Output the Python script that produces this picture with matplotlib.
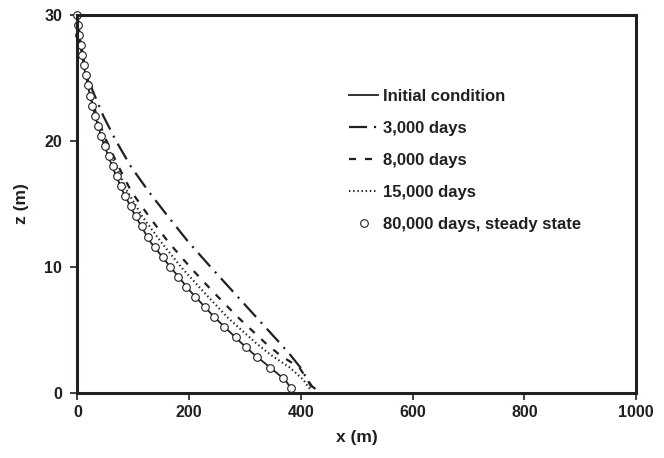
import matplotlib
matplotlib.use("Agg")
import matplotlib.pyplot as plt

plt.rcParams['font.family'] = ['Liberation Sans', 'DejaVu Sans']
plt.rcParams['font.weight'] = 'bold'
plt.rcParams['lines.scale_dashes'] = False

# steady state (circles)
ss_z = [30.0, 29.2, 28.4, 27.6, 26.8, 26.0, 25.2, 24.4, 23.6, 22.8, 22.0, 21.2, 20.4,
        19.6, 18.8, 18.0, 17.2, 16.4, 15.6, 14.8, 14.0, 13.2, 12.4, 11.6, 10.8, 10.0,
        9.2, 8.4, 7.6, 6.8, 6.0, 5.2, 4.4, 3.6, 2.8, 2.0, 1.2, 0.4]
ss_x = [0, 1.5, 3.5, 5.5, 8, 11, 14.5, 18.5, 22.5, 26.5, 31, 36, 42,
        49, 56, 63, 70, 77, 85, 95, 104, 115, 127, 139, 153, 166,
        180, 195, 211, 229, 245, 263, 283, 302, 322, 345, 367, 382]

# initial condition (solid line)
init_z = [30, 28, 26, 24, 22, 20, 18, 16, 14, 12, 10, 8, 6, 4, 3, 2, 1, 0.3]
init_x = [0, 4, 11, 20.5, 31, 45, 62, 81, 104, 130, 166, 203, 245, 292, 317, 345, 372, 383]

# transient curves
tr_z = [30, 28, 26, 24, 22, 20, 18, 16, 14, 12, 10, 8, 6, 4, 3, 2, 1, 0.5, 0.3]
x_3000 = [0, 5, 13, 27, 46, 69, 95, 127, 162, 198, 238, 279, 320, 361, 381, 399, 412, 420, 426]
x_8000 = [0, 4, 12, 23, 34, 52, 73, 96, 128, 162, 201, 243, 287, 335, 362, 397, 412, 418, 421]
x_15000 = [0, 4, 11.5, 21, 32, 49, 69, 89, 116, 149, 185, 226, 268, 318, 346, 380, 405, 412, 416]

labels = ['Initial condition', '3,000 days', '8,000 days', '15,000 days',
          '80,000 days, steady state']
ink = '#231f20'

fig = plt.figure(figsize=(6.64, 4.58), dpi=100)
ax = fig.add_axes([0.1167, 0.1426, 0.8413, 0.8247])

ax.plot(init_x, init_z, '-', color=ink, lw=1.3, label=labels[0])
ax.plot(x_3000, tr_z, color=ink, lw=1.6, dashes=(13, 5, 1.5, 5), label=labels[1])
ax.plot(x_8000, tr_z, color=ink, lw=1.6, dashes=(5, 6.5), label=labels[2])
ax.plot(x_15000, tr_z, color=ink, lw=1.5, dashes=(1, 2), label=labels[3])
ax.plot(ss_x, ss_z, 'o', ms=5.5, mfc='white', mec=ink, mew=0.8, clip_on=False,
        label=labels[4])

ax.set_xlim(0, 1000)
ax.set_ylim(0, 30)
ax.set_xticks([0, 200, 400, 600, 800, 1000])
ax.set_yticks([0, 10, 20, 30])
ax.tick_params(direction='out', length=5, width=1.2, labelsize=11.5, colors=ink)
ax.tick_params(axis='x', pad=4)
ax.tick_params(axis='y', pad=6)
for s in ax.spines.values():
    s.set_linewidth(2.2)
    s.set_color(ink)
ax.set_xlabel('x (m)', fontsize=12.5, fontweight='bold', color=ink, labelpad=7)
ax.set_ylabel('z (m)', fontsize=12.5, fontweight='bold', color=ink, labelpad=11)

leg = ax.legend(loc='upper left', bbox_to_anchor=(0.486, 0.804), frameon=False,
                fontsize=12, handlelength=1.75, handletextpad=0.3, labelspacing=1.02,
                borderpad=0, borderaxespad=0, numpoints=1)
for t in leg.get_texts():
    t.set_color(ink)

fig.savefig('out.png', dpi=100)
